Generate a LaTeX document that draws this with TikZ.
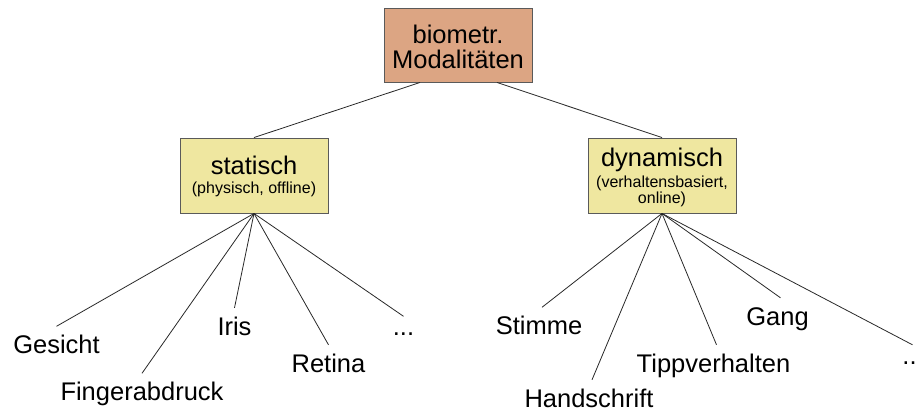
\documentclass[tikz,border=0pt]{standalone}
\usepackage{fontspec}
\setmainfont{Liberation Sans}
\definecolor{tanfill}{RGB}{220,165,131}
\definecolor{yelfill}{RGB}{239,231,160}
\definecolor{boxline}{RGB}{90,90,90}
\definecolor{edge}{RGB}{40,40,40}
\begin{document}
\begin{tikzpicture}[x=1bp,y=-1bp,
  boxbase/.style={draw=boxline, line width=0.9bp, minimum width=148bp, inner sep=0pt},
  topbox/.style={boxbase, fill=tanfill, minimum height=74bp},
  catbox/.style={boxbase, fill=yelfill, minimum height=75bp},
  bigtxt/.style={anchor=base, inner sep=0pt, font=\fontsize{25.5bp}{30bp}\selectfont},
  smalltxt/.style={anchor=base, inner sep=0pt, font=\fontsize{16bp}{16bp}\selectfont},
  leaf/.style={anchor=base, inner xsep=0pt, inner ysep=9bp, text height=18bp, text depth=0pt, font=\fontsize{25.5bp}{30bp}\selectfont},
  dots/.style={leaf, text height=10bp},
  conn/.style={draw=edge, line width=0.8bp}
]
\useasboundingbox (0,0) rectangle (918,414);

% boxes
\node[topbox] (mod) at (458,45) {};
\node[catbox] (stat) at (254,175.5) {};
\node[catbox] (dyn) at (662,175.5) {};

% box texts
\node[bigtxt] (modA) at (458,43) {biometr.};
\node[bigtxt] (modB) at (458,68) {Modalitäten};
\node[bigtxt] (statA) at (254,174.5) {statisch};
\node[smalltxt] (statB) at (254,193.5) {(physisch, offline)};
\node[bigtxt] (dynA) at (662,166) {dynamisch};
\node[smalltxt] (dynB) at (662,187) {(verhaltensbasiert,};
\node[smalltxt] (dynC) at (662,203) {online)};

% leaves (static)
\node[leaf] (gesicht) at (56.5,353.5) {Gesicht};
\node[leaf] (finger) at (142,400.5) {Fingerabdruck};
\node[leaf] (iris) at (234.5,335) {Iris};
\node[leaf] (retina) at (328.5,372) {Retina};
\node[dots] (sdots) at (403.5,335.5) {...};

% leaves (dynamic)
\node[leaf] (stimme) at (539,334.5) {Stimme};
\node[leaf] (hand) at (589,407) {Handschrift};
\node[leaf] (tipp) at (713.5,372) {Tippverhalten};
\node[leaf] (gang) at (777.5,325) {Gang};
\node[dots] (ddots) at (909.5,364) {..};

% connectors
\draw[conn] ([xshift=-38bp]mod.south) -- (stat.north);
\draw[conn] ([xshift=39bp]mod.south) -- (dyn.north);

\foreach \t in {gesicht,finger,iris,retina,sdots}
  \draw[conn] (stat.south) -- (\t.north);
\foreach \t in {stimme,hand,tipp,gang,ddots}
  \draw[conn] (dyn.south) -- ([xshift=3bp]\t.north);
\end{tikzpicture}
\end{document}
